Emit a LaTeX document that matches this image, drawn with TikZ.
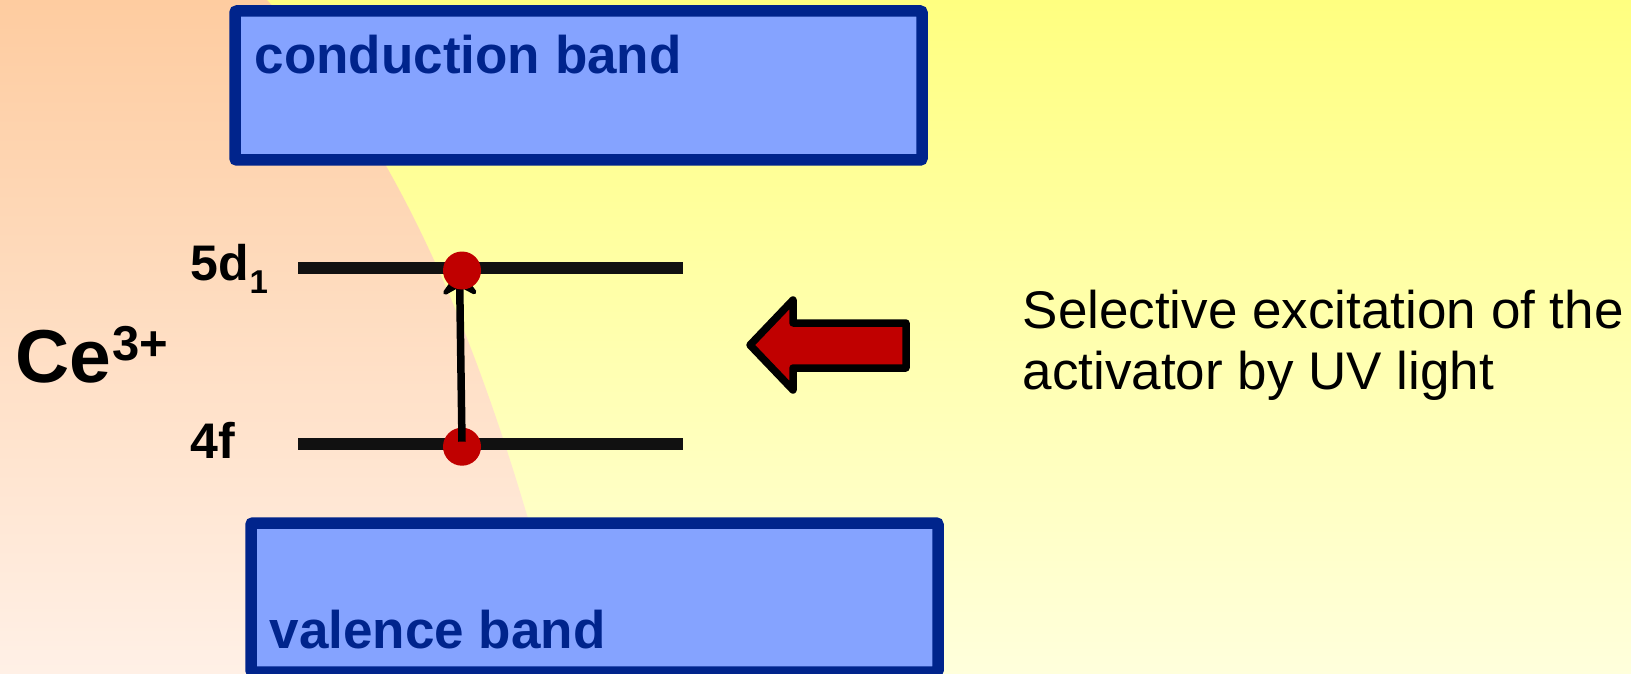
\documentclass[tikz,border=0pt]{standalone}
\usepackage{fontspec}
\setmainfont{Liberation Sans}
\usetikzlibrary{arrows.meta}

\definecolor{bandfill}{RGB}{133,163,255}
\definecolor{bandline}{RGB}{0,36,140}
\definecolor{dotred}{RGB}{192,0,0}
\definecolor{levelblack}{RGB}{17,17,17}
\definecolor{peachtop}{RGB}{254,204,160}
\definecolor{peachbot}{RGB}{255,240,230}
\definecolor{yeltop}{RGB}{255,255,128}
\definecolor{yelbot}{RGB}{255,255,220}

\begin{document}
\begin{tikzpicture}[x=1pt,y=-1pt,
  band/.style={draw=bandline, fill=bandfill, line width=11.5pt, rounded corners=2pt,
    rectangle, minimum width=687pt, minimum height=149pt, inner sep=0pt, outer sep=0pt,
    anchor=north west},
  bandlabel/.style={text=bandline, font=\fontsize{53}{60}\selectfont\bfseries,
    anchor=base west, inner sep=0pt},
  level/.style={draw=levelblack, line width=12pt},
  dot/.style={circle, fill=dotred, minimum size=38pt, inner sep=0pt},
  lvlabel/.style={font=\fontsize{50}{55}\selectfont\bfseries, anchor=base west, inner sep=0pt},
  excite/.style={draw=black, fill=dotred, line width=7.5pt, line join=round},
]
\useasboundingbox (0,0) rectangle (1631,674);
\begin{scope}
  \clip (0,0) rectangle (1631,674);
  % background: yellow field with a peach region on the left
  \shade[top color=yeltop, bottom color=yelbot] (0,0) rectangle (1631,674);
  \shade[top color=peachtop, bottom color=peachbot]
    (0,0) -- (267,0) .. controls (418,165) and (500,394) .. (570,674) -- (0,674) -- cycle;

  % bands
  \node[band] (cb) at (235,11) {};
  \node[band] (vb) at (251,523) {};
  \node[bandlabel] (cbl) at (254.5,73.3) {conduction band};
  \node[bandlabel] (vbl) at (269.5,648) {valence band};

  % Ce3+ levels
  \coordinate (d5a) at (298,267.5);
  \coordinate (d5b) at (683,267.5);
  \coordinate (f4a) at (298,443.7);
  \coordinate (f4b) at (683,443.7);
  \draw[level] (d5a) -- (d5b);
  \draw[level] (f4a) -- (f4b);

  \node[lvlabel] (l5d) at (190,280.7)
    {5d\kern1pt\raisebox{-12.6pt}{\fontsize{33}{33}\selectfont 1}};
  \node[lvlabel] (l4f) at (190,458.3) {4f};
  \node[anchor=base west, inner sep=0pt, font=\fontsize{75}{80}\selectfont\bfseries] (ion)
    at (15,382) {Ce\kern1pt\raisebox{22pt}{\fontsize{49}{49}\selectfont 3+}};

  % electrons and the transition
  \coordinate (upc) at (462,270.5);
  \node[dot] (lo) at (462,446.7) {};
  \draw[line width=7.5pt, -{Stealth[width=44pt,length=30pt,inset=12pt,round]}]
    ([yshift=5pt]lo.center) -- ([xshift=-2.5pt]upc);
  \node[dot] (up) at (upc) {};

  % UV light arrow
  \draw[excite] (750,345) -- (793,300) -- (793,323) -- (906,323) -- (906,368)
    -- (793,368) -- (793,390) -- cycle;

  \node[anchor=base west, inner sep=0pt, align=left,
        font=\fontsize{53}{61.5}\selectfont] (txt) at (1022.5,389.8)
    {Selective excitation of the\\activator by UV light};
\end{scope}
\end{tikzpicture}
\end{document}
